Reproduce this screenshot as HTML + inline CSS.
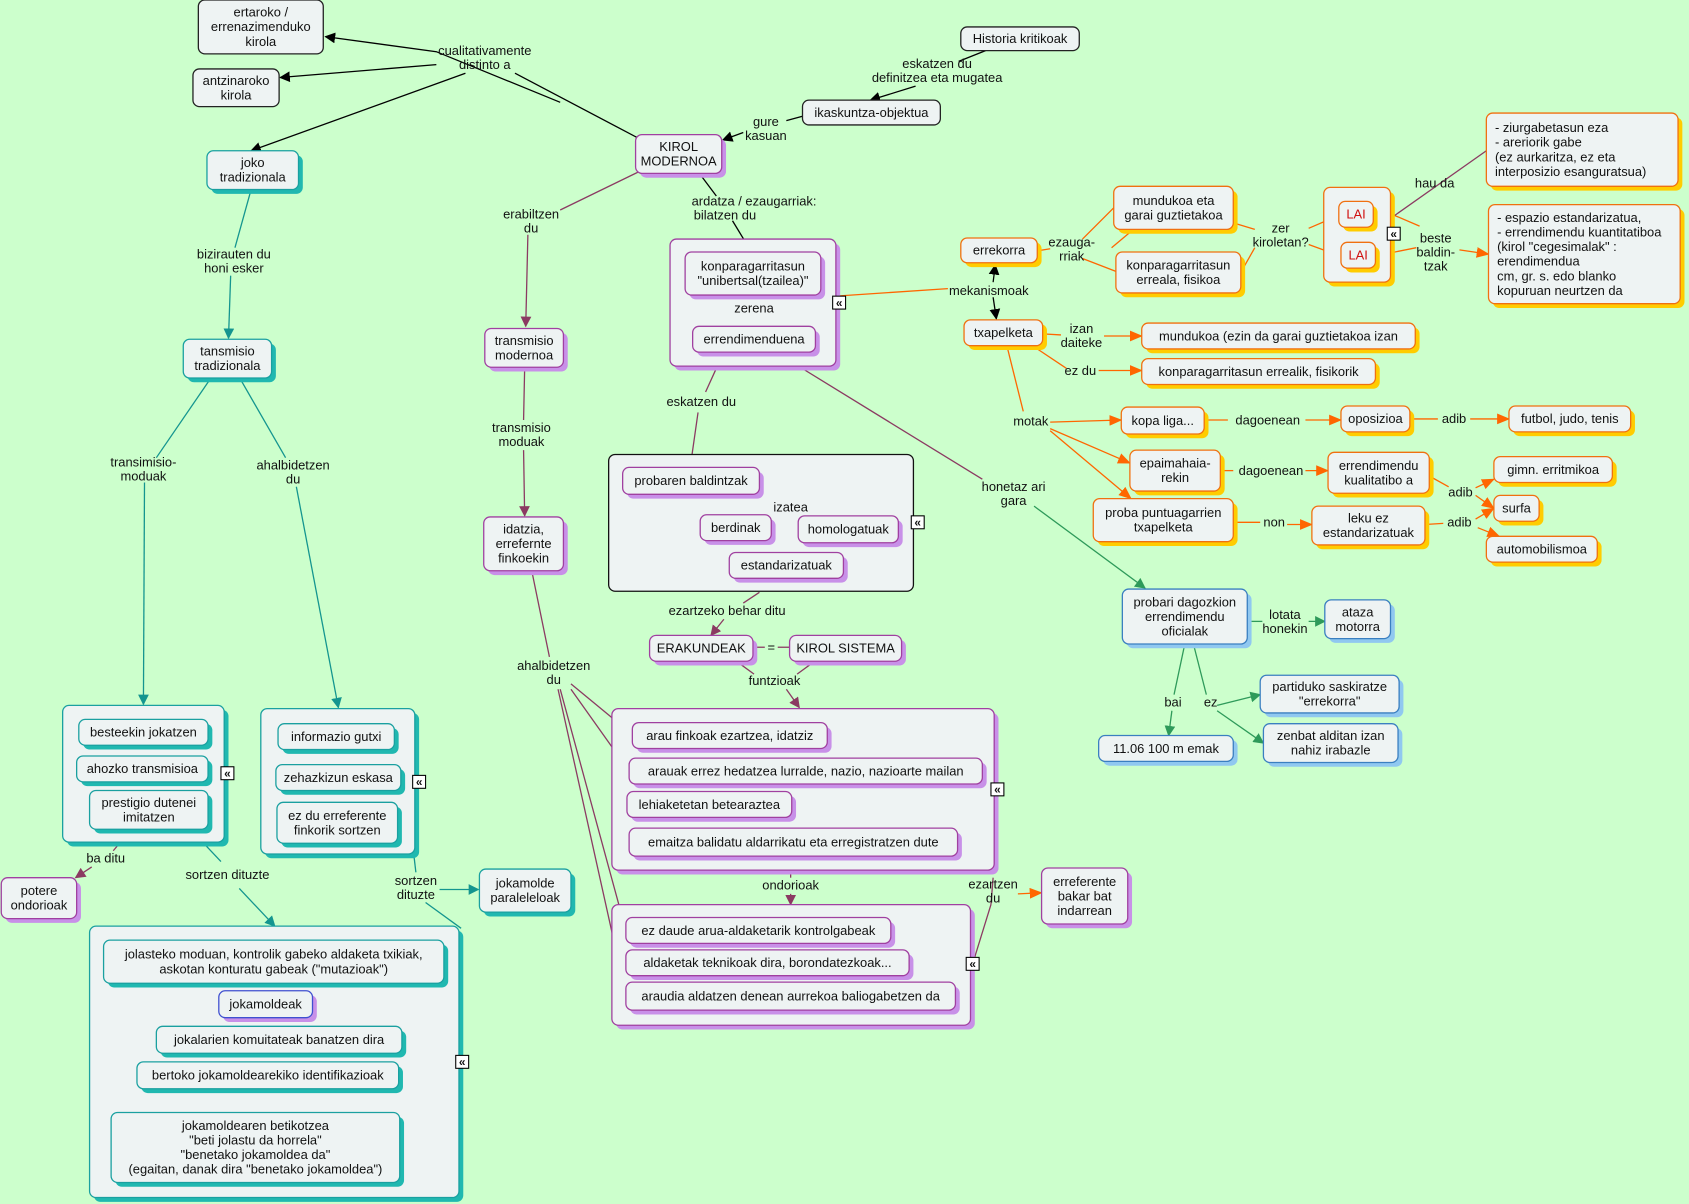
<!DOCTYPE html>
<html><head><meta charset="utf-8"><style>
html,body{margin:0;padding:0;background:#ccffcc;}
svg{display:block;}
text{font-family:"Liberation Sans",sans-serif;font-size:12px;fill:#111;}
</style></head><body>
<svg id="s" width="1689" height="1204" viewBox="0 0 1568 1118" xmlns="http://www.w3.org/2000/svg">
<rect width="1568" height="1118" fill="#ccffcc"/>
<defs>
<marker id="a-k" markerWidth="10" markerHeight="10" refX="9" refY="5" orient="auto" markerUnits="userSpaceOnUse"><path d="M0,0L10,5L0,10z" fill="#000"/></marker>
<marker id="a-p" markerWidth="10" markerHeight="10" refX="9" refY="5" orient="auto" markerUnits="userSpaceOnUse"><path d="M0,0L10,5L0,10z" fill="#8b3a62"/></marker>
<marker id="a-t" markerWidth="10" markerHeight="10" refX="9" refY="5" orient="auto" markerUnits="userSpaceOnUse"><path d="M0,0L10,5L0,10z" fill="#14958f"/></marker>
<marker id="a-o" markerWidth="12" markerHeight="10" refX="11" refY="5" orient="auto" markerUnits="userSpaceOnUse"><path d="M0,0L12,5L0,10z" fill="#ff6600"/></marker>
<marker id="a-g" markerWidth="10" markerHeight="10" refX="9" refY="5" orient="auto" markerUnits="userSpaceOnUse"><path d="M0,0L10,5L0,10z" fill="#2e9a5a"/></marker>
</defs>
<g id="E"></g><g id="N"></g><g id="L"></g>
</svg>
<script>
const NS="http://www.w3.org/2000/svg";
function el(t,a,p){const e=document.createElementNS(NS,t);for(const k in a)e.setAttribute(k,a[k]);p.appendChild(e);return e;}
const C={k:'#000',p:'#8b3a62',t:'#14958f',o:'#ff6600',g:'#2e9a5a'};
const E=[
// top black
[[[520,95],[405,48],[302,34]],'k',1],[[[405,60],[260,72]],'k',1],[[[432,68],[233,140]],'k',1],
[[[592,128],[478,68]],'k',0],
[[[915,47],[890,57]],'k',0],[[[850,80],[808,93]],'k',1],
[[[745,108],[730,112]],'k',0],[[[690,123],[671,130]],'k',1],
[[[650,162],[665,182]],'k',0],[[[680,205],[697,233]],'k',1],
[[[700,277],[700,302]],'k',1],
[[[922,262],[924,246]],'k',1],[[[922,276],[925,296]],'k',1],
// purple
[[[592,160],[520,195]],'p',0],[[[490,218],[488,303]],'p',1],
[[[487,342],[486,390]],'p',0],[[[486,418],[487,479]],'p',1],
[[[665,342],[655,364]],'p',0],[[[648,383],[641,432]],'p',1],
[[[725,330],[912,445]],'p',0],
[[[705,550],[690,560]],'p',0],[[[672,575],[660,590]],'p',1],
[[[699,601],[710,601]],'p',0],[[[722,601],[733,601]],'p',0],
[[[685,615],[700,626]],'p',0],[[[755,615],[740,626]],'p',0],[[[730,640],[742,657]],'p',1],
[[[705,459],[720,470]],'p',0],[[[717,472],[706,478]],'p',1],[[[752,472],[790,480]],'p',1],[[[736,478],[730,512]],'p',1],
[[[734,808],[734,815]],'p',0],[[[734,830],[734,840]],'p',1],
[[[903,895],[920,840]],'p',0],
[[[494,532],[510,610]],'p',0],
[[[530,635],[587,682]],'p',1],[[[530,640],[584,716]],'p',1],[[[520,640],[581,864]],'p',1],[[[518,640],[581,924]],'p',1],
[[[120,772],[105,790]],'p',0],[[[85,805],[70,815]],'p',1],
[[[193,917],[157,930],[203,932]],'p',1],[[[290,935],[373,940],[327,953]],'p',1],[[[145,970],[104,973],[150,986]],'p',1],[[[345,1013],[404,1024],[373,1033]],'p',1],
// teal
[[[233,176],[218,230]],'t',0],[[[214,256],[212,314]],'t',1],
[[[195,352],[145,425]],'t',0],[[[134,448],[133,654]],'t',1],
[[[223,352],[265,425]],'t',0],[[[275,452],[314,657]],'t',1],
[[[188,782],[205,800]],'t',0],[[[222,825],[255,860]],'t',1],
[[[384,793],[386,810]],'t',0],[[[408,826],[444,826]],'t',1],[[[395,838],[428,862]],'t',0],
// orange
[[[776,275],[880,268]],'o',0],
[[[963,233],[975,231]],'o',0],[[[1005,222],[1034,193]],'o',0],[[[1005,240],[1036,252]],'o',0],
[[[1145,207],[1165,213]],'o',0],[[[1152,253],[1165,230]],'o',0],[[[1215,212],[1243,200]],'o',1],[[[1215,227],[1245,238]],'o',1],
[[[1290,198],[1318,210]],'o',0],[[[1275,238],[1315,230]],'o',0],[[[1355,232],[1382,236]],'o',1],
[[[968,310],[985,311]],'o',0],[[[1025,312],[1060,312]],'o',1],
[[[960,322],[990,342]],'o',0],[[[1020,344],[1060,344]],'o',1],
[[[935,322],[950,382]],'o',0],[[[975,392],[1041,390]],'o',1],[[[975,398],[1049,430]],'o',1],[[[975,400],[1050,463]],'o',1],
[[[1118,390],[1140,390]],'o',0],[[[1212,390],[1245,390]],'o',1],
[[[1309,389],[1335,389]],'o',0],[[[1365,389],[1401,389]],'o',1],
[[[1133,437],[1145,437]],'o',0],[[[1212,437],[1233,437]],'o',1],
[[[1327,442],[1345,452]],'o',0],[[[1370,453],[1387,445]],'o',1],[[[1370,460],[1387,472]],'o',1],
[[[1145,485],[1170,485]],'o',0],[[[1195,487],[1218,487]],'o',1],
[[[1323,487],[1340,486]],'o',0],[[[1370,482],[1387,472]],'o',1],[[[1372,490],[1392,498]],'o',1],
[[[1050,215],[1032,230]],'o',0],
[[[1295,200],[1380,140]],'p',0],
// green
[[[960,470],[1063,546]],'g',1],
[[[1158,577],[1172,577]],'g',0],[[[1215,577],[1230,577]],'g',1],
[[[1100,598],[1090,645]],'g',0],[[[1088,660],[1085,683]],'g',1],
[[[1108,598],[1120,645]],'g',0],[[[1130,655],[1170,645]],'g',1],[[[1130,660],[1173,690]],'g',1],
[[[920,840],[922,815]],'p',0],[[[945,830],[967,829]],'o',1],
];
const eg=document.getElementById('E');
for(const [pts,c,a] of E){const at={points:pts.map(p=>p.join(',')).join(' '),fill:'none',stroke:C[c],'stroke-width':1.2};if(a)at['marker-end']='url(#a-'+c+')';el('polyline',at,eg);}
const S={k:['#222',null],p:['#a040a0','#c890e8'],t:['#1aa0a0','#20b8b0'],o:['#f07010','#ffcc00'],g:['#3a7fc0','#90c8f0'],b:['#4050d0','#c890e8'],d:['#111',null]};
const N=[
[184,0,116,50,'ertaroko /|errenazimenduko|kirola','k'],
[179,64,80,35,'antzinaroko|kirola','k'],
[892,25,110,22,'Historia kritikoak','k'],
[745,93,128,23,'ikaskuntza-objektua','k'],
[590,125,80,36,'KIROL|MODERNOA','p'],
[192,140,85,36,'joko|tradizionala','t'],
[170,315,82,36,'tansmisio|tradizionala','t'],
[58,655,150,127,'','t'],
[73,668,120,24,'besteekin jokatzen','t'],
[71,702,122,24,'ahozko transmisioa','t'],
[83,734,110,36,'prestigio dutenei|imitatzen','t'],
[242,658,143,135,'','t'],
[258,672,108,24,'informazio gutxi','t'],
[256,710,116,24,'zehazkizun eskasa','t'],
[257,745,112,38,'ez du erreferente|finkorik sortzen','t'],
[445,807,85,40,'jokamolde|paraleleloak','t'],
[83,860,343,252,'','t'],
[96,873,316,40,'jolasteko moduan, kontrolik gabeko aldaketa txikiak,|askotan konturatu gabeak ("mutazioak")','t'],
[203,920,87,25,'jokamoldeak','b'],
[145,953,228,25,'jokalarien komuitateak banatzen dira','t'],
[127,986,243,25,'bertoko jokamoldearekiko identifikazioak','t'],
[103,1033,268,65,'jokamoldearen betikotzea|"beti jolastu da horrela"|"benetako jokamoldea da"|(egaitan, danak dira "benetako jokamoldea")','t'],
[1,815,70,38,'potere|ondorioak','p'],
[450,305,73,36,'transmisio|modernoa','p'],
[449,480,74,50,'idatzia,|errefernte|finkoekin','p'],
[622,222,154,118,'','p'],
[636,234,126,40,'konparagarritasun|"unibertsal(tzailea)"','p'],
[643,303,114,24,'errendimenduena','p'],
[565,422,283,127,'','d'],
[578,434,127,25,'probaren baldintzak','p'],
[650,478,66,24,'berdinak','p'],
[741,479,93,25,'homologatuak','p'],
[677,513,106,24,'estandarizatuak','p'],
[603,590,96,24,'ERAKUNDEAK','p'],
[733,590,104,24,'KIROL SISTEMA','p'],
[568,658,355,150,'','p'],
[587,671,181,24,'arau finkoak ezartzea, idatziz','p'],
[584,704,328,24,'arauak errez hedatzea lurralde, nazio, nazioarte mailan','p'],
[582,735,153,24,'lehiaketetan betearaztea','p'],
[584,769,305,26,'emaitza balidatu aldarrikatu eta erregistratzen dute','p'],
[568,840,333,112,'','p'],
[581,852,246,24,'ez daude arua-aldaketarik kontrolgabeak','p'],
[581,882,263,24,'aldaketak teknikoak dira, borondatezkoak...','p'],
[581,912,306,26,'araudia aldatzen denean aurrekoa baliogabetzen da','p'],
[967,806,80,52,'erreferente|bakar bat|indarrean','p'],
[892,221,71,23,'errekorra','o'],
[1034,173,111,40,'mundukoa eta|garai guztietakoa','o'],
[1036,234,116,38,'konparagarritasun|erreala, fisikoa','o'],
[1229,174,62,88,'','o'],
[1243,187,32,24,'LAI','o','r'],
[1245,225,32,24,'LAI','o','r'],
[1380,105,178,68,'- ziurgabetasun eza|- areriorik gabe|   (ez aurkaritza, ez eta|    interposizio esanguratsua)','o','l'],
[1382,190,178,92,'- espazio estandarizatua,|- errendimendu kuantitatiboa|  (kirol "cegesimalak" :|     erendimendua|     cm, gr. s. edo blanko|     kopuruan  neurtzen da','o','l'],
[895,297,73,24,'txapelketa','o'],
[1060,300,254,24,'mundukoa (ezin da garai guztietakoa izan','o'],
[1060,333,217,24,'konparagarritasun errealik, fisikorik','o'],
[1041,378,77,25,'kopa liga...','o'],
[1245,377,64,24,'oposizioa','o'],
[1401,377,113,24,'futbol, judo, tenis','o'],
[1049,418,84,38,'epaimahaia-|rekin','o'],
[1233,420,94,38,'errendimendu|kualitatibo a','o'],
[1387,424,110,24,'gimn. erritmikoa','o'],
[1387,460,42,24,'surfa','o'],
[1015,463,130,40,'proba puntuagarrien|txapelketa','o'],
[1218,470,105,36,'leku ez|estandarizatuak','o'],
[1380,498,103,24,'automobilismoa','o'],
[1042,547,116,51,'probari dagozkion|errendimendu|oficialak','g'],
[1230,557,61,36,'ataza|motorra','g'],
[1170,627,129,35,'partiduko saskiratze|"errekorra"','g'],
[1173,672,125,36,'zenbat alditan izan|nahiz irabazle','g'],
[1020,683,125,24,'11.06  100 m emak','g'],
];
const ng=document.getElementById('N');
for(const [x,y,w,h,t,s,al] of N){const [bc,sh]=S[s];
 if(sh)el('rect',{x:x+4,y:y+4,width:w,height:h,rx:6,fill:sh},ng);
 el('rect',{x:x,y:y,width:w,height:h,rx:6,fill:'#eef3f3',stroke:bc,'stroke-width':1.2},ng);
 if(!t)continue;const ls=t.split('|');const lh=13.5;const y0=y+h/2-(ls.length-1)*lh/2+4;
 ls.forEach((l,i)=>{const left=al==='l';const tx=el('text',{x:left?x+8:x+w/2,y:y0+i*lh,'text-anchor':left?'start':'middle','xml:space':'preserve'},ng);if(al==='r')tx.setAttribute('style','fill:#d01010');tx.textContent=l;});}
const L=[
[450,51,'cualitativamente'],[450,64,'distinto a'],
[870,63,'eskatzen du'],[870,76,'definitzea eta mugatea'],
[711,117,'gure'],[711,130,'kasuan'],
[700,191,'ardatza / ezaugarriak:'],[673,204,'bilatzen du'],
[493,203,'erabiltzen'],[493,216,'du'],
[700,290,'zerena'],
[484,401,'transmisio'],[484,414,'moduak'],
[651,377,'eskatzen du'],
[918,274,'mekanismoak'],
[941,456,'honetaz ari'],[941,469,'gara'],
[995,229,'ezauga-'],[995,242,'rriak'],
[1189,216,'zer'],[1189,229,'kiroletan?'],
[1332,174,'hau da'],
[1333,225,'beste'],[1333,238,'baldin-'],[1333,251,'tzak'],
[1004,309,'izan'],[1004,322,'daiteke'],
[1003,348,'ez du'],
[957,395,'motak'],
[1177,394,'dagoenean'],[1350,393,'adib'],
[1180,441,'dagoenean'],[1356,461,'adib'],
[1183,489,'non'],[1355,489,'adib'],
[1193,575,'lotata'],[1193,588,'honekin'],
[1089,656,'bai'],[1124,656,'ez'],
[675,571,'ezartzeko behar ditu'],
[716,605,'='],
[719,636,'funtzioak'],
[734,475,'izatea'],
[734,826,'ondorioak'],
[922,825,'ezartzen'],[922,838,'du'],
[514,622,'ahalbidetzen'],[514,635,'du'],
[217,240,'bizirauten du'],[217,253,'honi esker'],
[133,433,'transimisio-'],[133,446,'moduak'],
[272,436,'ahalbidetzen'],[272,449,'du'],
[98,801,'ba ditu'],
[211,816,'sortzen dituzte'],
[386,822,'sortzen'],[386,835,'dituzte'],
];
const lg=document.getElementById('L');
for(const [x,y,t] of L){const e=el('text',{x:x,y:y,'text-anchor':'middle'},lg);e.textContent=t;}
const I=[[779,281],[852,485],[926,733],[903,895],[211,718],[389,726],[429,986],[1294,217]];
for(const [x,y] of I){el('rect',{x:x-6,y:y-6,width:12,height:12,fill:'#fff',stroke:'#000'},lg);const e=el('text',{x:x,y:y+4,'text-anchor':'middle',style:'font-size:11px;font-weight:bold'},lg);e.textContent='«';}
</script>
</body></html>
